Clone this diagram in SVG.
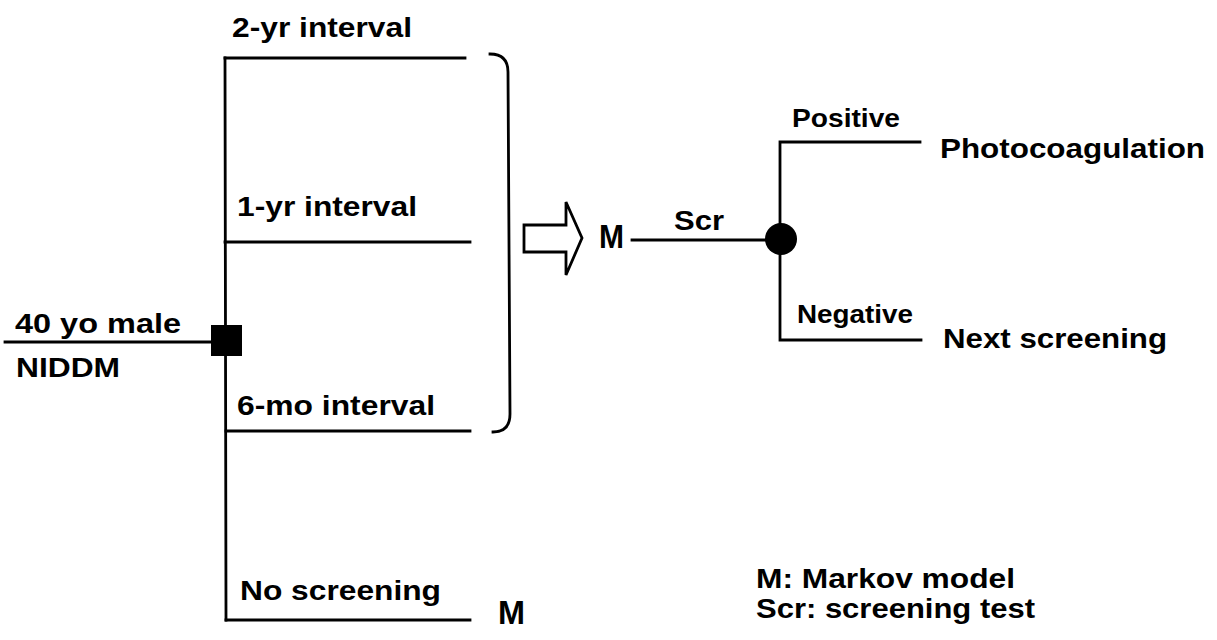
<svg xmlns="http://www.w3.org/2000/svg" width="1217" height="640" viewBox="0 0 1217 640">
<style>
.ln{fill:none;stroke:#000;stroke-width:2.8;stroke-linecap:square}
.t{font-family:"Liberation Sans",Arial,sans-serif;font-weight:bold;font-size:28px;fill:#000}
.s{font-size:26px}
.m{font-size:34px}
</style>
<rect width="1217" height="640" fill="#fff"/>
<g id="connectors">
<line class="ln" x1="5" y1="342" x2="212" y2="342"/>
<line class="ln" x1="225" y1="58" x2="226" y2="620"/>
<line class="ln" x1="225" y1="58" x2="465" y2="58"/>
<line class="ln" x1="225" y1="242" x2="470" y2="242"/>
<line class="ln" x1="226" y1="431" x2="470" y2="431"/>
<line class="ln" x1="226" y1="620" x2="470" y2="620"/>
<path class="ln" d="M490,54 Q508,54 508,72 L510,414 Q510,432 493,432"/>
<line class="ln" x1="632" y1="240" x2="770" y2="240"/>
<polyline class="ln" points="920,142 780,142 780,340 921,340"/>
</g>
<g id="arrow">
<polygon points="524,225 566,225 566,202 582,238 566,275 566,252 524,252" fill="#fff" stroke="#000" stroke-width="2.8" stroke-linejoin="miter"/>
</g>
<g id="root">
<text class="t" x="15" y="333" textLength="166" lengthAdjust="spacingAndGlyphs">40 yo male</text>
<text class="t" x="16" y="377" textLength="104" lengthAdjust="spacingAndGlyphs">NIDDM</text>
</g>
<g id="decision">
<rect x="211" y="325" width="31" height="31" fill="#000"/>
</g>
<g id="opt-2yr">
<text class="t" x="232" y="37" textLength="180" lengthAdjust="spacingAndGlyphs">2-yr interval</text>
</g>
<g id="opt-1yr">
<text class="t" x="237" y="216" textLength="180" lengthAdjust="spacingAndGlyphs">1-yr interval</text>
</g>
<g id="opt-6mo">
<text class="t" x="237" y="415" textLength="198" lengthAdjust="spacingAndGlyphs">6-mo interval</text>
</g>
<g id="opt-none">
<text class="t" x="240" y="600" textLength="201" lengthAdjust="spacingAndGlyphs">No screening</text>
<text class="t m" x="498" y="624" textLength="27" lengthAdjust="spacingAndGlyphs">M</text>
</g>
<g id="markov">
<text class="t m" x="599" y="248" textLength="25" lengthAdjust="spacingAndGlyphs">M</text>
<text class="t" x="674" y="230" textLength="50" lengthAdjust="spacingAndGlyphs">Scr</text>
</g>
<g id="chance">
<circle cx="781" cy="239" r="16" fill="#000"/>
</g>
<g id="positive">
<text class="t s" x="792" y="127" textLength="108" lengthAdjust="spacingAndGlyphs">Positive</text>
<text class="t" x="940" y="158" textLength="265" lengthAdjust="spacingAndGlyphs">Photocoagulation</text>
</g>
<g id="negative">
<text class="t s" x="797" y="323" textLength="116" lengthAdjust="spacingAndGlyphs">Negative</text>
<text class="t" x="943" y="348" textLength="224" lengthAdjust="spacingAndGlyphs">Next screening</text>
</g>
<g id="legend">
<text class="t" x="756" y="588" textLength="259" lengthAdjust="spacingAndGlyphs">M: Markov model</text>
<text class="t" x="756" y="618" textLength="279" lengthAdjust="spacingAndGlyphs">Scr: screening test</text>
</g>
</svg>
